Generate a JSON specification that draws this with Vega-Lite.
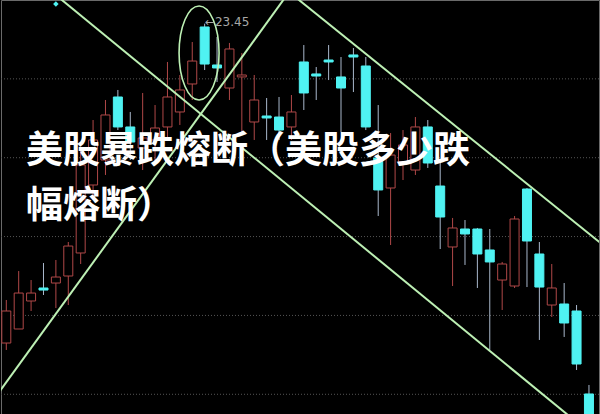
{
  "$schema": "https://vega.github.io/schema/vega-lite/v6.json",
  "width": 600,
  "height": 414,
  "autosize": {"type": "fit", "contains": "padding"},
  "padding": 0,
  "background": "#000000",
  "config": {"view": {"stroke": "#6a6a6a", "fill": "#000000"}, "axis": {"disable": true}},
  "datasets": {
    "candles": [
      {"i": 0, "o": 19.400, "c": 19.806, "h": 19.946, "l": 19.312},
      {"i": 1, "o": 19.578, "c": 20.034, "h": 20.313, "l": 19.578},
      {"i": 2, "o": 19.933, "c": 20.034, "h": 20.199, "l": 19.806},
      {"i": 3, "o": 20.098, "c": 20.072, "h": 20.415, "l": 20.009},
      {"i": 4, "o": 20.161, "c": 20.237, "h": 20.453, "l": 19.844},
      {"i": 5, "o": 20.250, "c": 20.630, "h": 20.681, "l": 19.882},
      {"i": 6, "o": 20.542, "c": 21.658, "h": 21.848, "l": 20.402},
      {"i": 7, "o": 21.404, "c": 21.975, "h": 22.228, "l": 21.214},
      {"i": 8, "o": 21.721, "c": 22.292, "h": 22.482, "l": 21.531},
      {"i": 9, "o": 22.520, "c": 22.140, "h": 22.609, "l": 22.101},
      {"i": 10, "o": 22.140, "c": 21.949, "h": 22.330, "l": 21.721},
      {"i": 11, "o": 21.873, "c": 22.000, "h": 22.571, "l": 21.594},
      {"i": 12, "o": 21.975, "c": 22.127, "h": 22.418, "l": 21.658},
      {"i": 13, "o": 22.140, "c": 22.520, "h": 22.964, "l": 21.975},
      {"i": 14, "o": 22.330, "c": 22.609, "h": 22.799, "l": 22.165},
      {"i": 15, "o": 22.685, "c": 22.976, "h": 23.217, "l": 22.482},
      {"i": 16, "o": 23.408, "c": 22.938, "h": 23.450, "l": 22.862},
      {"i": 17, "o": 22.926, "c": 22.888, "h": 23.281, "l": 22.710},
      {"i": 18, "o": 22.634, "c": 23.129, "h": 23.205, "l": 22.482},
      {"i": 19, "o": 22.774, "c": 22.799, "h": 23.078, "l": 22.063},
      {"i": 20, "o": 22.203, "c": 22.482, "h": 22.799, "l": 21.975},
      {"i": 21, "o": 22.279, "c": 22.254, "h": 22.507, "l": 21.975},
      {"i": 22, "o": 22.266, "c": 22.101, "h": 22.520, "l": 21.975},
      {"i": 23, "o": 22.140, "c": 22.330, "h": 22.545, "l": 21.975},
      {"i": 24, "o": 22.964, "c": 22.571, "h": 23.179, "l": 22.355},
      {"i": 25, "o": 22.812, "c": 22.786, "h": 22.900, "l": 22.482},
      {"i": 26, "o": 22.989, "c": 22.964, "h": 23.179, "l": 22.735},
      {"i": 27, "o": 22.774, "c": 22.634, "h": 23.027, "l": 22.076},
      {"i": 28, "o": 23.053, "c": 23.027, "h": 23.141, "l": 22.583},
      {"i": 29, "o": 22.913, "c": 22.140, "h": 23.027, "l": 22.101},
      {"i": 30, "o": 21.746, "c": 21.341, "h": 22.418, "l": 21.011},
      {"i": 31, "o": 21.366, "c": 21.784, "h": 22.063, "l": 20.643},
      {"i": 32, "o": 21.696, "c": 21.911, "h": 22.101, "l": 21.467},
      {"i": 33, "o": 21.594, "c": 22.140, "h": 22.266, "l": 21.531},
      {"i": 34, "o": 22.140, "c": 21.683, "h": 22.228, "l": 21.620},
      {"i": 35, "o": 21.391, "c": 20.998, "h": 21.683, "l": 20.592},
      {"i": 36, "o": 20.618, "c": 20.859, "h": 20.986, "l": 20.123},
      {"i": 37, "o": 20.846, "c": 20.783, "h": 20.960, "l": 20.390},
      {"i": 38, "o": 20.846, "c": 20.529, "h": 20.859, "l": 20.098},
      {"i": 39, "o": 20.580, "c": 20.428, "h": 20.846, "l": 19.312},
      {"i": 40, "o": 20.199, "c": 20.402, "h": 20.428, "l": 19.819},
      {"i": 41, "o": 20.123, "c": 20.973, "h": 21.011, "l": 20.098},
      {"i": 42, "o": 21.353, "c": 20.694, "h": 21.366, "l": 20.110},
      {"i": 43, "o": 20.529, "c": 20.110, "h": 20.681, "l": 19.439},
      {"i": 44, "o": 19.882, "c": 20.098, "h": 20.402, "l": 19.730},
      {"i": 45, "o": 19.895, "c": 19.654, "h": 20.161, "l": 19.477},
      {"i": 46, "o": 19.806, "c": 19.134, "h": 19.882, "l": 19.058},
      {"i": 47, "o": 18.754, "c": 18.424, "h": 18.868, "l": 18.424}
    ],
    "grid": [{"p": 18.75}, {"p": 19.75}, {"p": 20.75}, {"p": 21.75}, {"p": 22.75}],
    "lines": [
      {"i": 3.50, "p": 23.877, "i2": 46.78, "p2": 18.297},
      {"i": 22.61, "p": 23.877, "i2": 48.2, "p2": 20.634},
      {"i": -0.814, "p": 18.726, "i2": 22.93, "p2": 23.877}
    ],
    "ellipse": [{"i": 15.55, "p": 23.078}],
    "marker": [{"i": 4.0, "p": 23.699}],
    "label": [{"i": 16.02, "p": 23.471, "t": "←23.45"}],
    "title": [
      {"i": 1.58, "p": 21.823, "t": "美股暴跌熔断（美股多少跌"},
      {"i": 1.58, "p": 21.125, "t": "幅熔断）"}
    ]
  },
  "layer": [
    {
      "data": {"name": "grid"},
      "mark": {"type": "rule", "stroke": "#555555", "strokeWidth": 1, "strokeDash": [1, 2]},
      "encoding": {
        "y": {"field": "p", "type": "quantitative", "scale": {"domain": [18.5, 23.75], "zero": false, "nice": false}}
      }
    },
    {
      "data": {"name": "candles"},
      "mark": {"type": "rule", "strokeWidth": 1, "clip": true},
      "encoding": {
        "x": {"field": "i", "type": "quantitative", "scale": {"domain": [-0.024, 47.407], "zero": false, "nice": false}},
        "y": {"field": "l", "type": "quantitative", "scale": {"domain": [18.5, 23.75], "zero": false, "nice": false}},
        "y2": {"field": "h"},
        "color": {"condition": {"test": "datum.c > datum.o", "value": "#b04848"}, "value": "#a9b8cc"}
      }
    },
    {
      "data": {"name": "candles"},
      "mark": {"type": "bar", "size": 9, "strokeWidth": 1, "clip": true},
      "encoding": {
        "x": {"field": "i", "type": "quantitative"},
        "y": {"field": "o", "type": "quantitative"},
        "y2": {"field": "c"},
        "fill": {"condition": {"test": "datum.c > datum.o", "value": "#000000"}, "value": "#4ff2f2"},
        "stroke": {"condition": {"test": "datum.c > datum.o", "value": "#b04848"}, "value": "#4ff2f2"}
      }
    },
    {
      "data": {"name": "lines"},
      "mark": {"type": "rule", "stroke": "#bdf0b4", "strokeWidth": 2, "clip": true},
      "encoding": {
        "x": {"field": "i", "type": "quantitative"},
        "y": {"field": "p", "type": "quantitative"},
        "x2": {"field": "i2"},
        "y2": {"field": "p2"}
      }
    },
    {
      "data": {"name": "ellipse"},
      "mark": {"type": "point", "shape": "M -0.4255 0 A 0.4255 1 0 1 1 0.4255 0 A 0.4255 1 0 1 1 -0.4255 0 Z", "size": 8836, "filled": false, "stroke": "#bdf0b4", "strokeWidth": 1.6, "opacity": 1},
      "encoding": {
        "x": {"field": "i", "type": "quantitative"},
        "y": {"field": "p", "type": "quantitative"}
      }
    },
    {
      "data": {"name": "marker"},
      "mark": {"type": "point", "shape": "diamond", "size": 30, "filled": true, "fill": "#4ff2f2", "opacity": 1},
      "encoding": {
        "x": {"field": "i", "type": "quantitative"},
        "y": {"field": "p", "type": "quantitative"}
      }
    },
    {
      "data": {"name": "label"},
      "mark": {"type": "text", "align": "left", "baseline": "middle", "fontSize": 12, "font": "DejaVu Sans", "fill": "#a8a8a8"},
      "encoding": {
        "x": {"field": "i", "type": "quantitative"},
        "y": {"field": "p", "type": "quantitative"},
        "text": {"field": "t"}
      }
    },
    {
      "data": {"name": "title"},
      "mark": {"type": "text", "align": "left", "baseline": "middle", "fontSize": 37, "font": "Noto Sans CJK SC", "fontWeight": "bold", "fill": "#ffffff"},
      "encoding": {
        "x": {"field": "i", "type": "quantitative"},
        "y": {"field": "p", "type": "quantitative"},
        "text": {"field": "t"}
      }
    }
  ]
}
